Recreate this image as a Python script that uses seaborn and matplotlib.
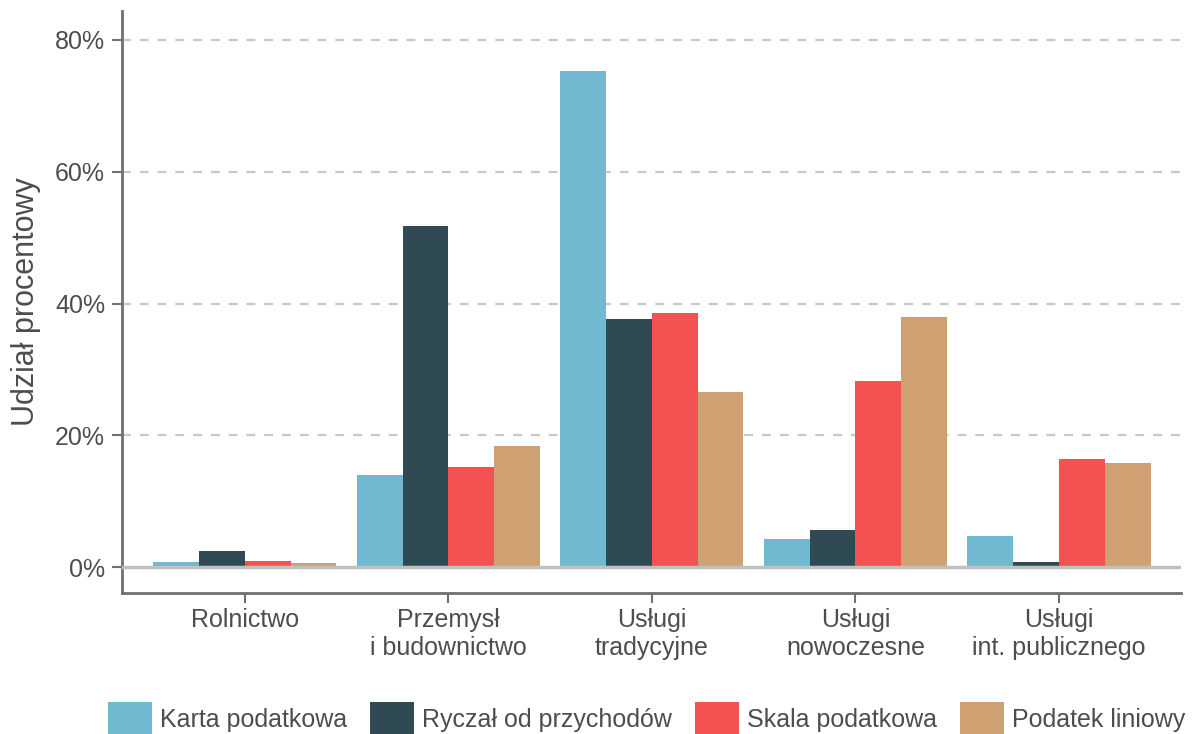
import pandas as pd
import seaborn as sns
import matplotlib.pyplot as plt
from matplotlib.ticker import PercentFormatter

categories = ['Rolnictwo', 'Przemysł\ni budownictwo', 'Usługi\ntradycyjne',
              'Usługi\nnowoczesne', 'Usługi\nint. publicznego']
series = ['Karta podatkowa', 'Ryczał od przychodów', 'Skala podatkowa', 'Podatek liniowy']

karta = [0.7, 14.0, 75.3, 4.3, 4.7]
ryczalt = [2.4, 51.7, 37.6, 5.6, 0.7]
skala = [0.9, 15.2, 38.5, 28.3, 16.4]
liniowy = [0.6, 18.4, 26.5, 37.9, 15.8]

colors = ['#71B9D0', '#2F4A52', '#F45252', '#CFA072']
text_color = '#4D4D4D'
axis_color = '#707070'


def make_df():
    rows = []
    for name, vals in zip(series, [karta, ryczalt, skala, liniowy]):
        for cat, v in zip(categories, vals):
            rows.append({'sektor': cat, 'forma': name, 'udzial': v})
    return pd.DataFrame(rows)


def main():
    df = make_df()
    sns.set_theme(style='white')
    plt.rcParams['font.family'] = ['Liberation Sans', 'DejaVu Sans']

    fig, ax = plt.subplots(figsize=(11.93, 7.34), dpi=100)
    sns.barplot(data=df, x='sektor', y='udzial', hue='forma',
                palette=colors, width=0.9, saturation=1, gap=0,
                linewidth=0, ax=ax)

    for y in [20, 40, 60, 80]:
        ax.axhline(y, color='#C8C8C8', linestyle=(0, (4, 4)), linewidth=1.6, zorder=0)
    ax.axhline(0, color='#C0C0C0', linewidth=2.5, zorder=3)

    ax.set_ylim(-3.95, 84.4)
    ax.set_xlim(-0.605, 4.6)
    ax.set_yticks([0, 20, 40, 60, 80])
    ax.yaxis.set_major_formatter(PercentFormatter(decimals=0))
    ax.set_xlabel('')
    ax.set_ylabel('Udział procentowy', fontsize=22, color=text_color, labelpad=10)

    for side in ['top', 'right']:
        ax.spines[side].set_visible(False)
    for side in ['left', 'bottom']:
        ax.spines[side].set_color(axis_color)
        ax.spines[side].set_linewidth(2)
    ax.tick_params(axis='both', colors=axis_color, length=7, width=1.5,
                   labelcolor=text_color, labelsize=18, direction='out',
                   left=True, bottom=True)
    ax.tick_params(axis='x', pad=4)
    ax.tick_params(axis='y', pad=5)

    handles, labels = ax.get_legend_handles_labels()
    ax.get_legend().remove()
    fig.legend(handles, labels, loc='lower center', ncol=4, frameon=False,
               fontsize=18, handlelength=1.75, handleheight=1.65,
               handletextpad=0.3, columnspacing=0.95,
               bbox_to_anchor=(0.542, -0.032), labelcolor=text_color)

    fig.subplots_adjust(left=0.102, right=0.99, top=0.985, bottom=0.192)
    fig.savefig('out.png', dpi=100)


if __name__ == '__main__':
    main()
